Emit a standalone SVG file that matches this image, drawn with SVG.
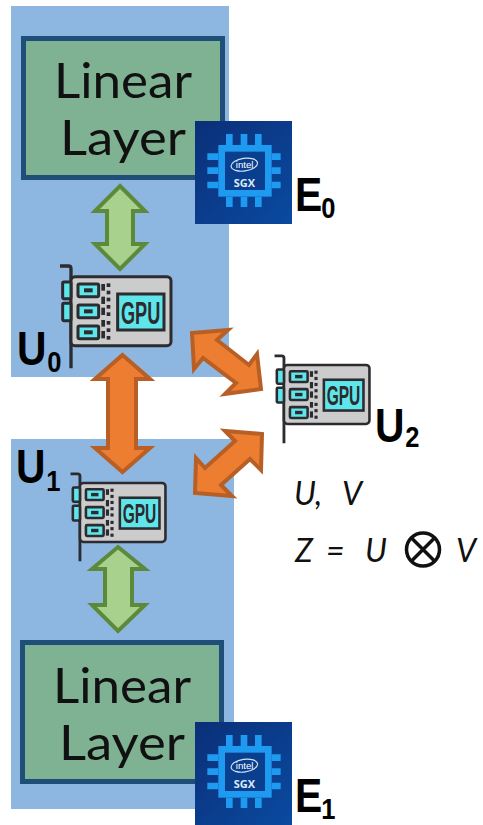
<svg xmlns="http://www.w3.org/2000/svg" width="483" height="825" viewBox="0 0 483 825">
<style>
.bg{fill:#8db7e1}
.box{fill:#7fb193;stroke:#1f4e79;stroke-width:5}
.t{font-family:"Lato","Open Sans","Liberation Sans",sans-serif;font-size:49px;fill:#111}
.lab{font-family:"Liberation Sans",sans-serif;font-weight:700;font-size:48px;fill:#000}
.sub{font-size:30px}
.m{font-family:"Lato","Open Sans","Liberation Sans",sans-serif;font-style:italic;font-size:32px;fill:#111}
.g{fill:#a9d18e;stroke:#5b8a3a;stroke-width:4;stroke-linejoin:miter}
.o{fill:#ed7d31;stroke:#b85f26;stroke-width:4;stroke-linejoin:miter}
.d{stroke:#2b2b30;stroke-width:10;fill:none}
.dk{fill:#2b2b30}
.c{fill:#5fe6ea;stroke:#2b2b30;stroke-width:9}
.pin{stroke:#1e9bf0;stroke-width:20;fill:none}
</style>
<defs>
<linearGradient id="sg" x1="0" y1="0" x2="1" y2="1"><stop offset="0" stop-color="#0b2f78"/><stop offset="1" stop-color="#0a4aa0"/></linearGradient>
<g id="gpu">
<path class="d" d="M150,33H175Q183,33 183,41V340"/>
<rect x="183" y="65" width="300" height="207" rx="12" fill="#ccc" stroke="#2b2b30" stroke-width="9"/>
<rect class="c" x="158" y="81" width="25" height="50" rx="4"/>
<rect class="c" x="158" y="145" width="25" height="52" rx="4"/>
<rect x="204" y="87" width="62" height="38" rx="4" class="c"/><rect x="222" y="100" width="26" height="12" class="dk"/>
<rect x="204" y="150" width="62" height="38" rx="4" class="c"/><rect x="222" y="163" width="26" height="12" class="dk"/>
<rect x="204" y="213" width="62" height="38" rx="4" class="c"/><rect x="222" y="226" width="26" height="12" class="dk"/>
<g class="dk">
<rect x="274" y="87" width="11" height="20"/><rect x="274" y="125" width="11" height="22"/><rect x="274" y="158" width="11" height="22"/><rect x="274" y="195" width="11" height="20"/><rect x="274" y="228" width="11" height="22"/>
<rect x="290" y="85" width="11" height="11"/><rect x="290" y="107" width="11" height="11"/><rect x="290" y="128" width="11" height="11"/><rect x="290" y="150" width="11" height="11"/><rect x="290" y="172" width="11" height="11"/><rect x="290" y="198" width="11" height="11"/><rect x="290" y="220" width="11" height="11"/><rect x="290" y="243" width="11" height="11"/>
</g>
<rect class="c" x="323" y="117" width="139" height="108"/>
<text x="392" y="206" text-anchor="middle" font-family="'Liberation Sans',sans-serif" font-weight="700" font-size="96" fill="#2b2b30" textLength="118" lengthAdjust="spacingAndGlyphs">GPU</text>
</g>
<g id="sgx">
<rect x="0" y="0" width="97" height="103" fill="url(#sg)"/>
<g transform="scale(.3333) translate(-15,-33)">
<path class="pin" d="M118,72V105M162,72V105M205,72V105M118,260V291M162,260V291M205,260V291M52,140H85M52,182H85M52,225H85M245,140H272M245,182H272M245,225H272"/>
<rect x="95" y="115" width="140" height="135" fill="#0a3f90" stroke="#1e9bf0" stroke-width="20"/>
<ellipse cx="163" cy="164" rx="40" ry="19" fill="none" stroke="#d5e4f5" stroke-width="3.500" transform="rotate(-8 163 164)"/>
<text x="164" y="174" text-anchor="middle" font-family="'Liberation Sans',sans-serif" font-size="29" fill="#fff">intel</text>
<text x="163" y="232" text-anchor="middle" font-family="'Open Sans','Liberation Sans',sans-serif" font-weight="700" font-size="33" fill="#dcebfa">SGX</text>
</g>
</g>
</defs>

<g id="bands">
<rect class="bg" x="11" y="6" width="218" height="371"/>
<rect class="bg" x="11" y="439" width="223" height="370"/>
</g>

<g id="connectors">
<polygon class="g" points="120,186 145,211 133,211 133,244 145,244 120,269 95,244 107,244 107,211 95,211"/>
<polygon class="o" points="122.500,355 150,379 136,379 136,448 150,448 122.500,472 95,448 108,448 108,379 95,379"/>
<polygon class="g" points="118,547 145,569 132,569 132,605 145,605 118,631 92,605 105,605 105,569 92,569"/>
<polygon class="o" points="192,333 228,330 217,340 249,365 257,354 261,389 225,394 236,383 203,358 194,369"/>
<polygon class="o" points="262,434 225,431 235,441 205,468 196,458 195,493 232,496 221,485 250,459 261,470"/>
</g>

<g id="layer0"><rect class="box" x="23.500" y="38.500" width="199" height="139"/>
<text class="t" x="54" y="98" textLength="138" lengthAdjust="spacingAndGlyphs">Linear</text><text class="t" x="60" y="155" textLength="126" lengthAdjust="spacingAndGlyphs">Layer</text></g>
<g id="layer1"><rect class="box" x="22.500" y="642.500" width="199" height="139"/>
<text class="t" x="53" y="703" textLength="138" lengthAdjust="spacingAndGlyphs">Linear</text><text class="t" x="59" y="760" textLength="126" lengthAdjust="spacingAndGlyphs">Layer</text></g>

<g id="E0"><use href="#sgx" x="195" y="121"/><text class="lab" transform="translate(295,211) scale(.85,1)">E<tspan class="sub" dy="7" dx="-1">0</tspan></text></g>
<g id="E1"><use href="#sgx" x="195" y="722"/><text class="lab" transform="translate(295,812) scale(.85,1)">E<tspan class="sub" dy="7" dx="-1">1</tspan></text></g>

<g id="U0"><use href="#gpu" transform="translate(10,255) scale(.3333)"/><text class="lab" transform="translate(17,365) scale(.85,1)">U<tspan class="sub" dy="7" dx="1">0</tspan></text></g>
<g id="U1"><use href="#gpu" transform="translate(27.800,464.400) scale(.285)"/><text class="lab" transform="translate(16,483) scale(.85,1)">U<tspan class="sub" dy="8" dx="1">1</tspan></text></g>
<g id="U2"><use href="#gpu" transform="translate(231.800,346.400) scale(.285)"/><text class="lab" transform="translate(375,442) scale(.85,1)">U<tspan class="sub" dy="5" dx="1">2</tspan></text></g>

<g id="math">
<text class="m" x="294" y="505">U,<tspan x="342">V</tspan></text>
<text class="m" x="295" y="562">Z<tspan x="326">=</tspan><tspan x="365">U</tspan></text>
<g fill="none" stroke="#111" stroke-width="3.500"><circle cx="423" cy="549.500" r="16.500"/><path d="M411.500,538L434.500,561M434.500,538L411.500,561"/></g>
<text class="m" x="456" y="562">V</text>
</g>
</svg>
